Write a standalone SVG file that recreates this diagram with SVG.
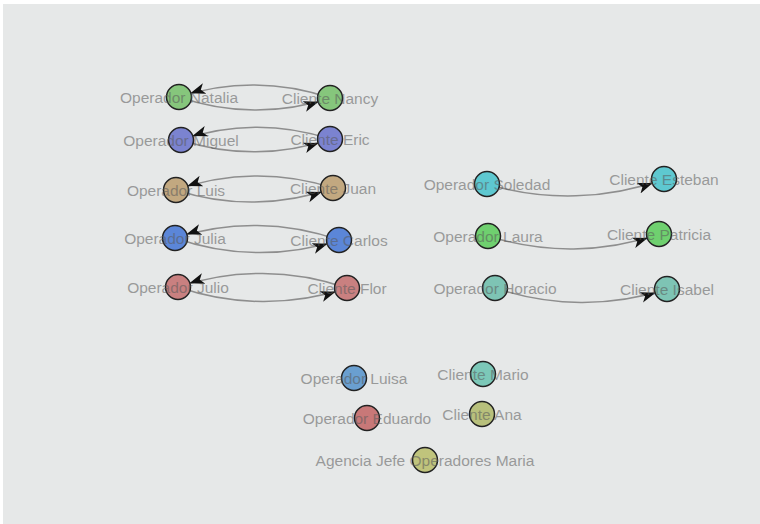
<svg xmlns="http://www.w3.org/2000/svg" width="760" height="524" viewBox="0 0 760 524">
<style>
.bg{fill:#e6e8e8}
.link{fill:none;stroke:#8e8e8e;stroke-width:1.5}
.node circle{stroke:#222;stroke-width:1.5}
.node text{font-family:"Liberation Sans",Arial,sans-serif;font-size:15.5px;fill:#5a5a5a;opacity:0.55;text-anchor:middle}
</style>
<defs>
<marker id="arr" viewBox="0 -6 15 12" refX="27" refY="0" markerWidth="15" markerHeight="12" markerUnits="userSpaceOnUse" orient="auto">
<path d="M0,-5.5L15,0L0,5.5L4,0Z" fill="#111"/>
</marker>
</defs>
<rect width="760" height="524" fill="#fff"/>
<rect class="bg" x="3" y="4" width="757" height="520"/>
<g id="connectors">
<path class="link" marker-end="url(#arr)" d="M330,98 A234,234 0 0,0 179,97"/>
<path class="link" marker-end="url(#arr)" d="M179,97 A234,234 0 0,0 330,98"/>
<path class="link" marker-end="url(#arr)" d="M330,139 A231,231 0 0,0 181,140"/>
<path class="link" marker-end="url(#arr)" d="M181,140 A231,231 0 0,0 330,139"/>
<path class="link" marker-end="url(#arr)" d="M333,188 A243,243 0 0,0 176,190"/>
<path class="link" marker-end="url(#arr)" d="M176,190 A243,243 0 0,0 333,188"/>
<path class="link" marker-end="url(#arr)" d="M339,240 A254,254 0 0,0 175,238"/>
<path class="link" marker-end="url(#arr)" d="M175,238 A254,254 0 0,0 339,240"/>
<path class="link" marker-end="url(#arr)" d="M347,288 A262,262 0 0,0 178,287"/>
<path class="link" marker-end="url(#arr)" d="M178,287 A262,262 0 0,0 347,288"/>
<path class="link" marker-end="url(#arr)" d="M487,184 A280,280 0 0,0 664,179"/>
<path class="link" marker-end="url(#arr)" d="M488,236 A270,270 0 0,0 659,234"/>
<path class="link" marker-end="url(#arr)" d="M495,288 A272,272 0 0,0 667,289"/>
</g>
<g id="n-natalia" class="node"><circle cx="179" cy="97" r="12.5" fill="#86c67c"/><text x="179" y="102.5">Operador Natalia</text></g>
<g id="n-nancy" class="node"><circle cx="330" cy="98" r="12.5" fill="#86c67c"/><text x="330" y="103.5">Cliente Nancy</text></g>
<g id="n-miguel" class="node"><circle cx="181" cy="140" r="12.5" fill="#7b83d0"/><text x="181" y="145.5">Operador Miguel</text></g>
<g id="n-eric" class="node"><circle cx="330" cy="139" r="12.5" fill="#7b83d0"/><text x="330" y="144.5">Cliente Eric</text></g>
<g id="n-luis" class="node"><circle cx="176" cy="190" r="12.5" fill="#c2a880"/><text x="176" y="195.5">Operador Luis</text></g>
<g id="n-juan" class="node"><circle cx="333" cy="188" r="12.5" fill="#c2a880"/><text x="333" y="193.5">Cliente Juan</text></g>
<g id="n-julia" class="node"><circle cx="175" cy="238" r="12.5" fill="#5b86d8"/><text x="175" y="243.5">Operador Julia</text></g>
<g id="n-carlos" class="node"><circle cx="339" cy="240" r="12.5" fill="#5b86d8"/><text x="339" y="245.5">Cliente Carlos</text></g>
<g id="n-julio" class="node"><circle cx="178" cy="287" r="12.5" fill="#c98080"/><text x="178" y="292.5">Operador Julio</text></g>
<g id="n-flor" class="node"><circle cx="347" cy="288" r="12.5" fill="#c98080"/><text x="347" y="293.5">Cliente Flor</text></g>
<g id="n-soledad" class="node"><circle cx="487" cy="184" r="12.5" fill="#5ec8d0"/><text x="487" y="189.5">Operador Soledad</text></g>
<g id="n-esteban" class="node"><circle cx="664" cy="179" r="12.5" fill="#5ec8d0"/><text x="664" y="184.5">Cliente Esteban</text></g>
<g id="n-laura" class="node"><circle cx="488" cy="236" r="12.5" fill="#6fd06f"/><text x="488" y="241.5">Operador Laura</text></g>
<g id="n-patricia" class="node"><circle cx="659" cy="234" r="12.5" fill="#6fd06f"/><text x="659" y="239.5">Cliente Patricia</text></g>
<g id="n-horacio" class="node"><circle cx="495" cy="288" r="12.5" fill="#7ec4b4"/><text x="495" y="293.5">Operador Horacio</text></g>
<g id="n-isabel" class="node"><circle cx="667" cy="289" r="12.5" fill="#7ec4b4"/><text x="667" y="294.5">Cliente Isabel</text></g>
<g id="n-luisa" class="node"><circle cx="354" cy="378" r="12.5" fill="#6a9fd0"/><text x="354" y="383.5">Operador Luisa</text></g>
<g id="n-mario" class="node"><circle cx="483" cy="374" r="12.5" fill="#7cc8b8"/><text x="483" y="379.5">Cliente Mario</text></g>
<g id="n-eduardo" class="node"><circle cx="367" cy="418" r="12.5" fill="#c87878"/><text x="367" y="423.5">Operador Eduardo</text></g>
<g id="n-ana" class="node"><circle cx="482" cy="414" r="12.5" fill="#b8c07c"/><text x="482" y="419.5">Cliente Ana</text></g>
<g id="n-maria" class="node"><circle cx="425" cy="460" r="12.5" fill="#c0c47c"/><text x="425" y="465.5">Agencia Jefe Operadores Maria</text></g>
</svg>
